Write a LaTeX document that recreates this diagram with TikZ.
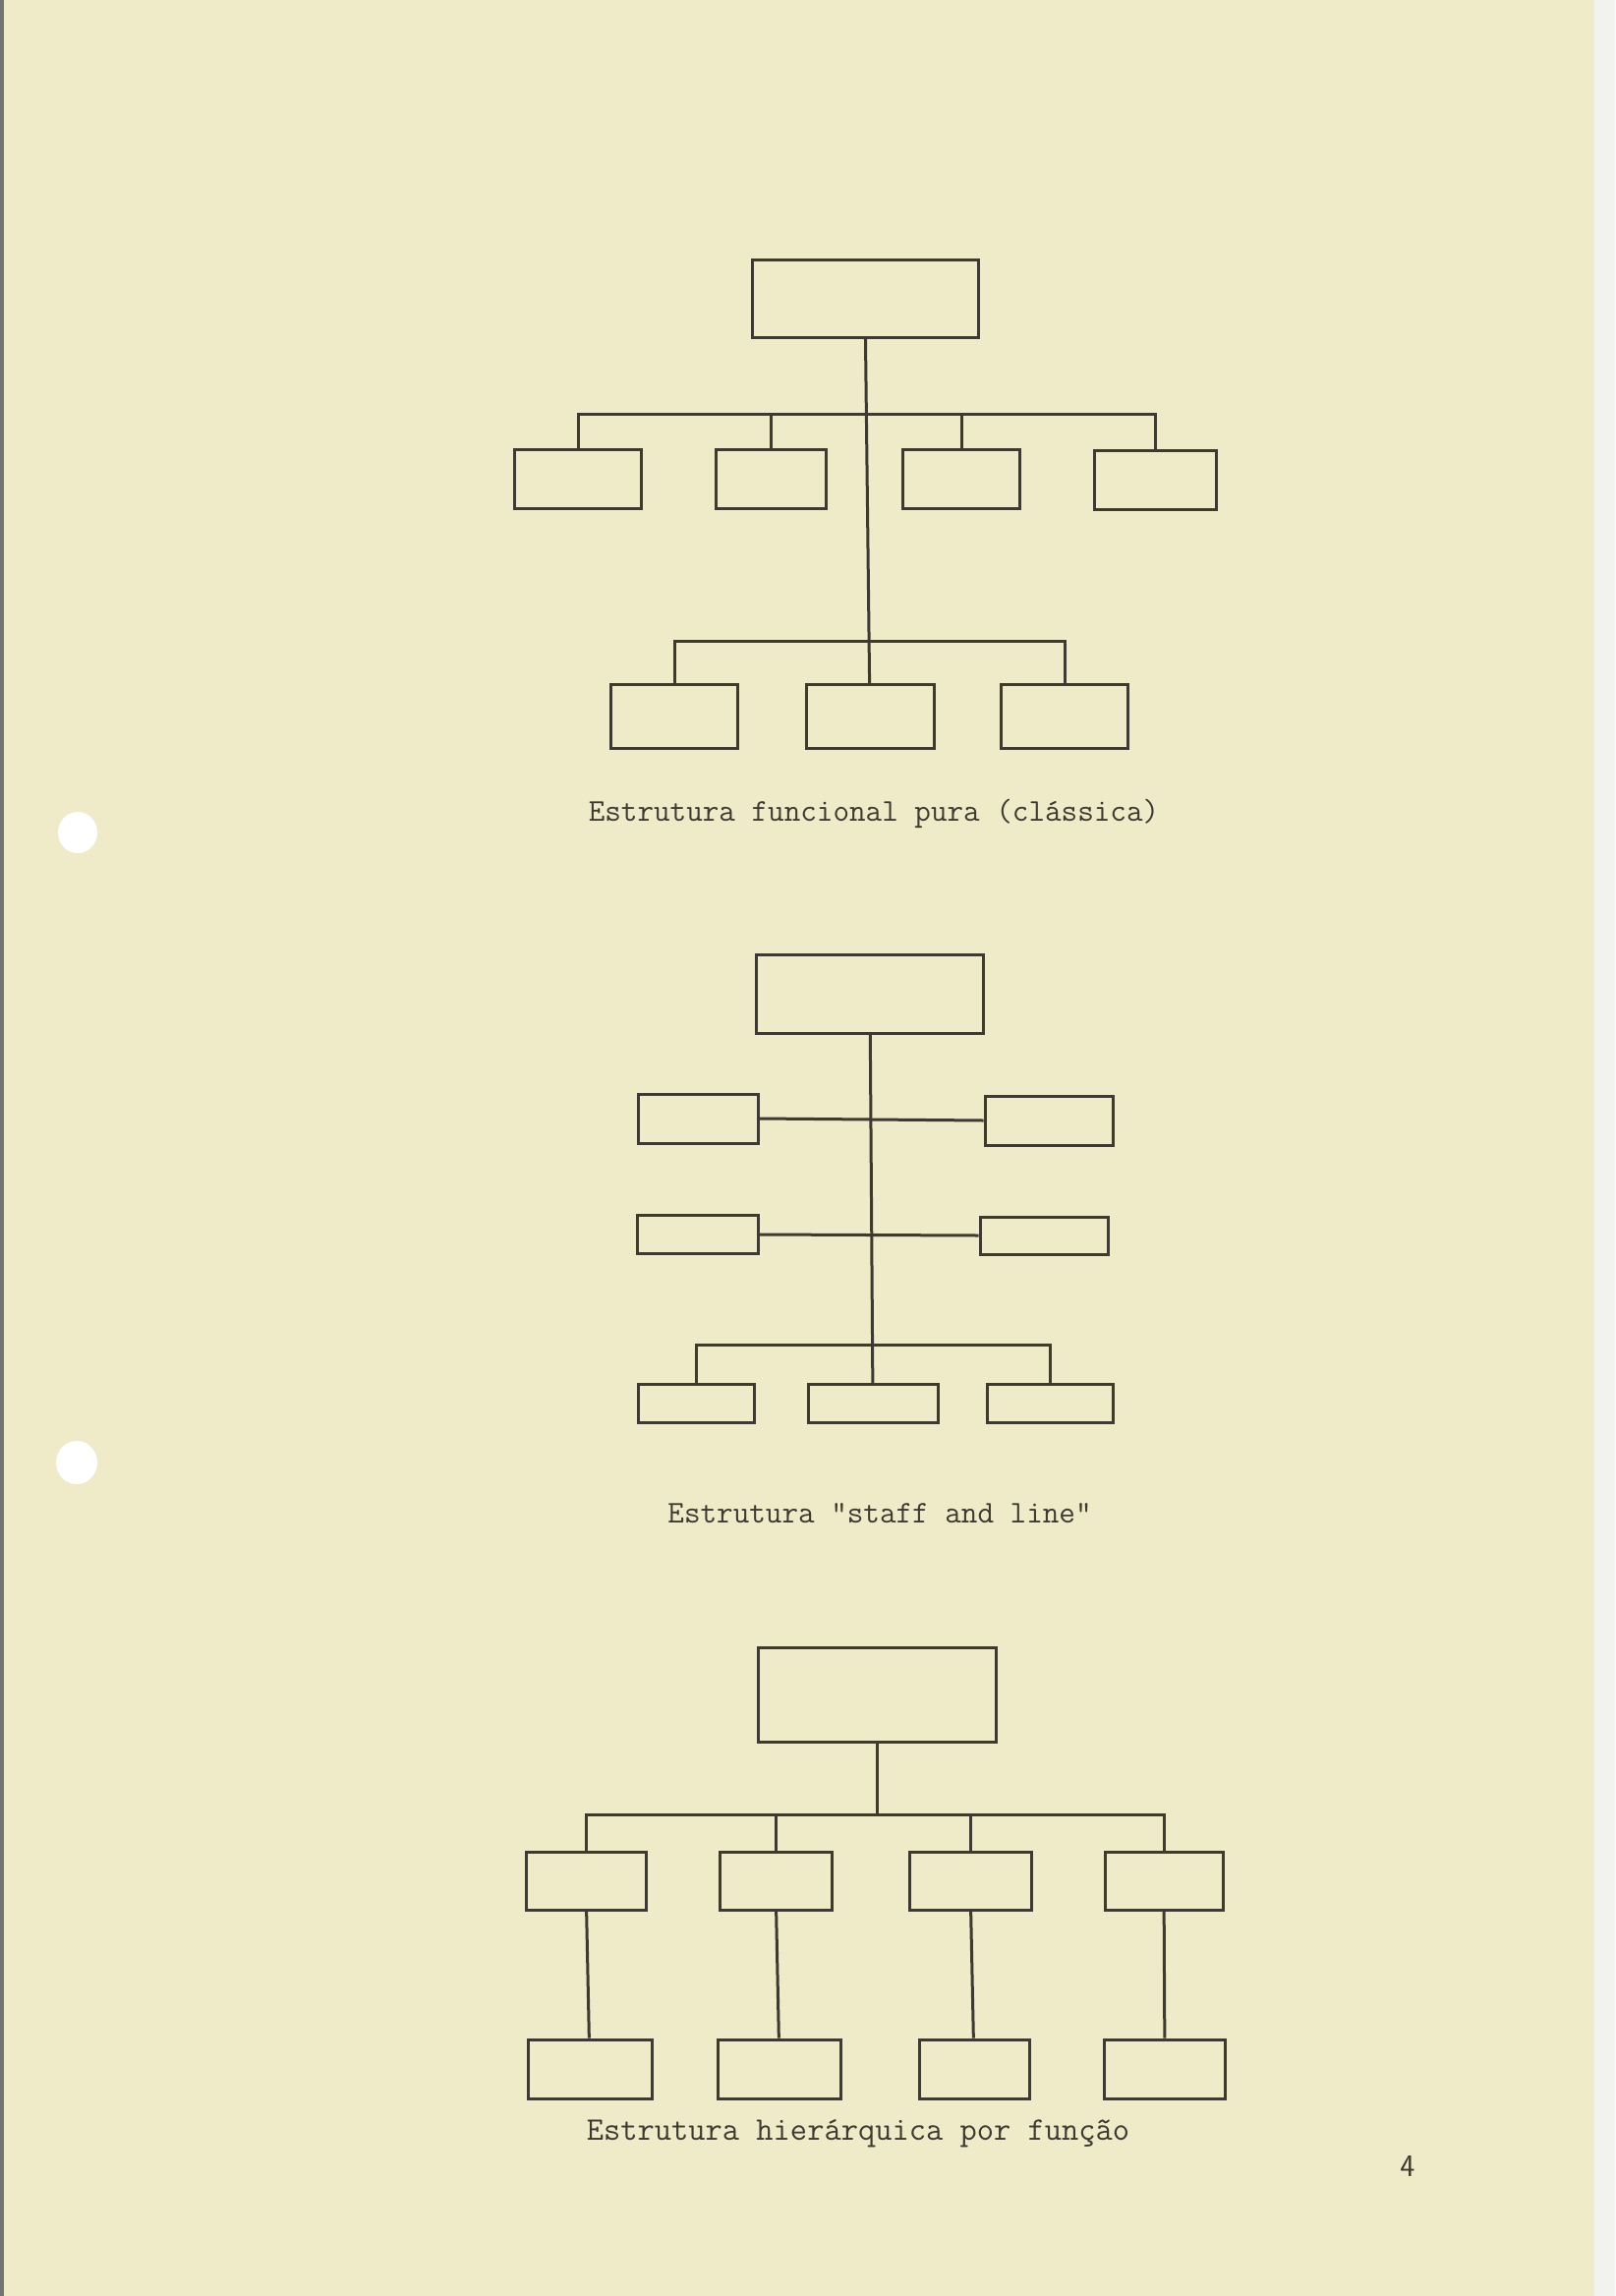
\documentclass[tikz,border=0pt]{standalone}
\usepackage{fontspec}
\usetikzlibrary{positioning}
\definecolor{paper}{RGB}{239,235,201}
\definecolor{ink}{RGB}{62,58,50}
\definecolor{margin}{RGB}{242,242,238}

\begin{document}
\begin{tikzpicture}
	[x=1pt,y=-1pt,line width=3pt,color=ink,
	box/.style 2 args={draw=ink,rectangle,inner sep=0pt,minimum width=#1pt,minimum height=#2pt},
	caption/.style={text=ink,font=\fontsize{32.2}{36}\selectfont\ttfamily}]
	% paper
	\fill[paper] (0,0) rectangle (1622,2336);
	\fill[margin] (1622,0) rectangle (1643,2336);
	\fill[black!55] (0,0) rectangle (4,2336);
	\fill[white] (79,847) ellipse [x radius=20,y radius=21];
	\fill[white] (78,1488) ellipse [x radius=21,y radius=22];
	\useasboundingbox (0,0) rectangle (1643,2336);

	% Estrutura funcional pura
	\node[box={230}{79}] (t1) at (880,304) {};
	\node[box={129}{60}] (a1) at (588,487) {};
	\node[box={112}{60}] (a2) at (784,487) {};
	\node[box={119}{60}] (a3) at (978,487) {};
	\node[box={124}{60}] (a4) at (1175,488) {};
	\node[box={129}{65}] (c1) at (686,729) {};
	\node[box={130}{65}] (c2) at (885,729) {};
	\node[box={129}{65}] (c3) at (1083,729) {};
	\coordinate (j1) at (880,421);
	\coordinate (j2) at (884,652);
	\draw (t1) -- (c2);
	\draw (a1.north) |- (j1) -| (a4.north);
	\foreach \n in {a2,a3}
	\draw (\n.north) -- (\n.north |- j1);
	\draw (c1.north) |- (j2) -| (c3.north);
	\node[caption] (cap1) at (889,828) {Estrutura funcional pura (clássica)};

	% Estrutura staff and line
	\node[box={231}{80}] (t2) at (885,1011) {};
	\node[box={122}{50}] (s1) at (710,1138) {};
	\node[box={130}{50}] (s2) at (1067,1140) {};
	\node[box={123}{39}] (s3) at (710,1256) {};
	\node[box={130}{38}] (s4) at (1062,1257) {};
	\node[box={118}{39}] (e1) at (708,1428) {};
	\node[box={132}{39}] (e2) at (888,1428) {};
	\node[box={128}{39}] (e3) at (1068,1428) {};
	\coordinate (j3) at (888,1368);
	\draw (t2) -- (e2);
	\foreach \from/\to in {s1/s2,s3/s4}
	\draw (\from.east) -- (\to.west);
	\draw (e1.north) |- (j3) -| (e3.north);
	\node[caption] (cap2) at (895,1540) {Estrutura "staff and line"};

	% Estrutura hierarquica
	\node[box={242}{96}] (t3) at (892,1724) {};
	\node[box={122}{59}] (f1) at (596,1914) {};
	\node[box={114}{59}] (f2) at (789,1914) {};
	\node[box={124}{59}] (f3) at (987,1914) {};
	\node[box={120}{59}] (f4) at (1184,1914) {};
	\node[box={126}{60}] (g1) at (600,2105) {};
	\node[box={125}{60}] (g2) at (793,2105) {};
	\node[box={112}{60}] (g3) at (991,2105) {};
	\node[box={123}{60}] (g4) at (1185,2105) {};
	\coordinate (j4) at (892,1846);
	\draw (t3) -- (j4);
	\draw (f1.north) |- (j4) -| (f4.north);
	\foreach \n in {f2,f3}
	\draw (\n.north) -- (\n.north |- j4);
	\foreach \from/\to in {f1/g1,f2/g2,f3/g3,f4/g4}
	\draw (\from) -- (\to);
	\node[caption,font=\fontsize{33.5}{38}\selectfont\ttfamily] (cap3) at (873,2171) {Estrutura hierárquica por função};

	\node[text=ink,font=\fontsize{32}{38}\selectfont\sffamily] (pg) at (1432,2204) {4};
\end{tikzpicture}
\end{document}
